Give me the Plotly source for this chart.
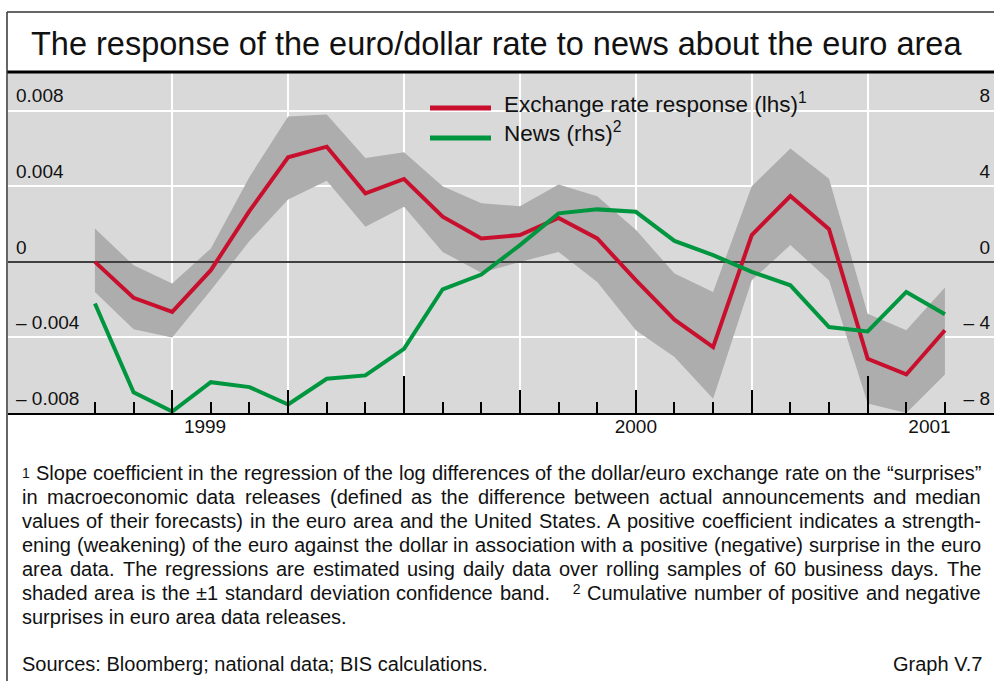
import plotly.graph_objects as go

# ---------------- data ----------------
months = list(range(23))  # monthly observations, index 8 = Jan 2000, 20 = Jan 2001
response = [0.0000, -0.0019, -0.00265, -0.00044, 0.0027, 0.00554, 0.0061, 0.00363,
            0.00439, 0.00239, 0.00124, 0.00142, 0.00233, 0.00124, -0.00097, -0.00306,
            -0.00451, 0.00142, 0.00349, 0.00173, -0.00513, -0.00596, -0.00362]
band_upper = [0.00177, -0.00018, -0.00115, 0.00071, 0.0045, 0.0077, 0.0078, 0.0055,
              0.0058, 0.0040, 0.0031, 0.00295, 0.0041, 0.00348, 0.0017, -0.00062,
              -0.0016, 0.0040, 0.0060, 0.0044, -0.00274, -0.00362, -0.00136]
band_lower = [-0.0016, -0.00357, -0.0040, -0.0015, 0.0011, 0.0033, 0.0043, 0.00186,
              0.00292, 0.00053, -0.00058, 0.0, 0.00053, -0.00106, -0.00362, -0.00504,
              -0.00725, -0.00097, 0.00089, -0.00097, -0.0075, -0.0080, -0.00596]
news = [-2.2, -6.9, -7.92, -6.37, -6.63, -7.55, -6.19, -6.01, -4.6, -1.45, -0.67,
        0.89, 2.57, 2.78, 2.65, 1.11, 0.36, -0.53, -1.24, -3.45, -3.68, -1.59, -2.77]

month_ticks = [0, 1, 3, 4, 6, 7, 9, 10, 12, 13, 15, 16, 18, 19, 21, 22]
quarter_ticks = [2, 5, 11, 14, 17]
year_ticks = [8, 20]
grid_x = [-1, 2, 5, 8, 11, 14, 17, 20]
year_label_pos = [2.85, 14, 21.6]
year_labels = ["1999", "2000", "2001"]

lhs_vals = [-0.008, -0.004, 0, 0.004, 0.008]
lhs_text = ["\u2013 0.008", "\u2013 0.004", "0", "0.004", "0.008"]
rhs_vals = [-8, -4, 0, 4, 8]
rhs_text = ["\u2013 8", "\u2013 4", "0", "4", "8"]

title = "The response of the euro/dollar rate to news about the euro area"
legend_red = "Exchange rate response (lhs)<sup>1</sup>"
legend_green = "News (rhs)<sup>2</sup>"
# footnote lines (True = justified to full width)
footnotes = [
    ("<sup>1</sup> Slope coefficient in the regression of the log differences of the dollar/euro exchange rate on the \u201csurprises\u201d", True),
    ("in macroeconomic data releases (defined as the difference between actual announcements and median", True),
    ("values of their forecasts) in the euro area and the United States. A positive coefficient indicates a strength-", True),
    ("ening (weakening) of the euro against the dollar in association with a positive (negative) surprise in the euro", True),
    ("area data. The regressions are estimated using daily data over rolling samples of 60 business days. The", True),
    ("shaded area is the \u00b11 standard deviation confidence band. \u00a0\u00a0\u00a0<sup>2</sup> Cumulative number of positive and negative", True),
    ("surprises in euro area data releases.", False),
]
sources = "Sources: Bloomberg; national data; BIS calculations."
graph_id = "Graph V.7"

# ---------------- geometry ----------------
W, H = 994, 681
ML, MR, MT, MB = 8, 0, 73, 268
PW, PH = W - ML - MR, H - MT - MB
XR = [-2.25, 23.27]
FONT = "Liberation Sans, Arial, sans-serif"
RED = "#c8102e"
GREEN = "#00963f"
TXT = "#111"


def px(x):
    return (x - ML) / PW


def py(y):
    return (H - MB - y) / PH


# approximate Arial / Liberation Sans advance widths (1/1000 em)
_W = {" ": 278, "\u00a0": 278, "(": 333, ")": 333, ",": 278, "-": 333, ".": 278, "/": 278,
      ":": 278, ";": 278, "\u201c": 333, "\u201d": 333, "\u00b1": 584, "\u2013": 556}
for ch in "0123456789":
    _W[ch] = 556
_W.update(dict(zip("ABCDEFGHIJKLMNOPQRSTUVWXYZ",
                   [667, 667, 722, 722, 667, 611, 778, 722, 278, 500, 667, 556, 833, 722,
                    778, 667, 778, 722, 667, 611, 722, 667, 944, 667, 667, 611])))
_W.update(dict(zip("abcdefghijklmnopqrstuvwxyz",
                   [556, 556, 500, 556, 556, 278, 556, 556, 222, 222, 500, 222, 833, 556,
                    556, 556, 556, 333, 500, 278, 556, 500, 722, 500, 500, 500])))


def text_width(s, size):
    total = 0.0
    i = 0
    while i < len(s):
        if s.startswith("<sup>", i):
            j = s.index("</sup>", i)
            total += sum(_W.get(c, 556) for c in s[i + 5:j]) * 0.7
            i = j + 6
            continue
        total += _W.get(s[i], 556)
        i += 1
    return total * size / 1000.0


fig = go.Figure()
fig.add_trace(go.Scatter(
    x=months + months[::-1], y=band_upper + band_lower[::-1],
    fill="toself", fillcolor="#adadad", line=dict(width=0), mode="lines",
    hoverinfo="skip", showlegend=False))
fig.add_trace(go.Scatter(
    x=XR, y=[0, 0], mode="lines", line=dict(color="#404040", width=2),
    hoverinfo="skip", showlegend=False))
fig.add_trace(go.Scatter(
    x=months, y=response, mode="lines", line=dict(color=RED, width=4),
    name="Exchange rate response (lhs)", showlegend=False))
fig.add_trace(go.Scatter(
    x=months, y=news, mode="lines", line=dict(color=GREEN, width=4),
    name="News (rhs)", yaxis="y2", showlegend=False))
# invisible carriers so that the overlaid tick axes are drawn
for ax in ["x2", "x3", "x4"]:
    fig.add_trace(go.Scatter(x=XR, y=[0, 0], xaxis=ax, mode="lines",
                             line=dict(width=0, color="rgba(0,0,0,0)"),
                             hoverinfo="skip", showlegend=False))

tickfont = dict(family=FONT, size=19, color=TXT)

fig.update_layout(
    width=W, height=H,
    margin=dict(l=ML, r=MR, t=MT, b=MB, pad=0),
    paper_bgcolor="white", plot_bgcolor="#d9d9d9",
    font=dict(family=FONT, color=TXT),
    xaxis=dict(range=XR, tickmode="array", tickvals=month_ticks, ticks="inside",
               ticklen=11, tickwidth=2, tickcolor="black", showticklabels=False,
               showgrid=False, zeroline=False, showline=True, linecolor="black",
               linewidth=2,
               minor=dict(tickmode="array", tickvals=grid_x, showgrid=True,
                          gridcolor="white", gridwidth=1.5)),
    xaxis2=dict(range=XR, overlaying="x", anchor="y", side="bottom", tickmode="array",
                tickvals=quarter_ticks, ticks="inside", ticklen=23, tickwidth=2,
                tickcolor="black", showticklabels=False, showgrid=False, zeroline=False),
    xaxis3=dict(range=XR, overlaying="x", anchor="y", side="bottom", tickmode="array",
                tickvals=year_ticks, ticks="inside", ticklen=37, tickwidth=2,
                tickcolor="black", showticklabels=False, showgrid=False, zeroline=False),
    xaxis4=dict(range=XR, overlaying="x", anchor="y", side="bottom", tickmode="array",
                tickvals=year_label_pos, ticktext=year_labels, ticks="",
                tickfont=tickfont, showgrid=False, zeroline=False),
    yaxis=dict(range=[-0.008, 0.010], tickmode="array", tickvals=lhs_vals,
               ticktext=lhs_text, ticks="", ticklabelposition="inside",
               ticklabelshift=-15, ticklabelstandoff=5, tickfont=tickfont,
               showgrid=True, gridcolor="white", gridwidth=1.5, zeroline=False),
    yaxis2=dict(range=[-8, 10], overlaying="y", side="right", tickmode="array",
                tickvals=rhs_vals, ticktext=rhs_text, ticks="",
                ticklabelposition="inside", ticklabelshift=-15, ticklabelstandoff=1,
                tickfont=tickfont, showgrid=False, zeroline=False),
)

shapes = [
    dict(type="line", xref="paper", yref="paper", x0=px(7), x1=px(W), y0=py(12), y1=py(12),
         line=dict(color="#333", width=1.5)),
    dict(type="line", xref="paper", yref="paper", x0=px(7), x1=px(W), y0=py(72), y1=py(72),
         line=dict(color="black", width=3)),
    dict(type="line", xref="paper", yref="paper", x0=px(7), x1=px(7), y0=py(12), y1=py(H),
         line=dict(color="#333", width=1.5)),
    # legend keys
    dict(type="line", xref="paper", yref="paper", x0=px(430), x1=px(491), y0=py(108), y1=py(108),
         line=dict(color=RED, width=5)),
    dict(type="line", xref="paper", yref="paper", x0=px(430), x1=px(491), y0=py(138), y1=py(138),
         line=dict(color=GREEN, width=5)),
]
fig.update_layout(shapes=shapes)

ann = [
    dict(text=title, x=px(29), y=py(44), xanchor="left", yanchor="middle",
         font=dict(family=FONT, size=32.5, color=TXT)),
    dict(text=legend_red, x=px(502), y=py(103),
         xanchor="left", yanchor="middle", font=dict(family=FONT, size=22.5, color=TXT)),
    dict(text=legend_green, x=px(502), y=py(132),
         xanchor="left", yanchor="middle", font=dict(family=FONT, size=22.5, color=TXT)),
]

FN_SIZE = 20
LEFT, RIGHT = 22, 981
fn_font = dict(family=FONT, size=FN_SIZE, color=TXT)
for i, (line, justify) in enumerate(footnotes):
    yy = py(473 + 24 * i)
    if not justify:
        ann.append(dict(text=line, x=px(LEFT - 2), y=yy, xanchor="left", yanchor="middle",
                        font=fn_font))
        continue
    words = line.split(" ")
    widths = [text_width(w, FN_SIZE) for w in words]
    gap = (RIGHT - LEFT - sum(widths)) / (len(words) - 1)
    xpos = LEFT
    for w, wd in zip(words, widths):
        ann.append(dict(text=w, x=px(xpos + wd / 2), y=yy, xanchor="center",
                        yanchor="middle", font=fn_font))
        xpos += wd + gap

ann.append(dict(text=sources, x=px(LEFT - 2), y=py(664), xanchor="left", yanchor="middle",
                font=fn_font))
ann.append(dict(text=graph_id, x=px(984), y=py(664), xanchor="right", yanchor="middle",
                font=fn_font))
for a in ann:
    a.update(xref="paper", yref="paper", showarrow=False)
fig.update_layout(annotations=ann)

fig.write_html("out.html", config={"displayModeBar": False},
               post_script="document.body.style.margin='0px';")
